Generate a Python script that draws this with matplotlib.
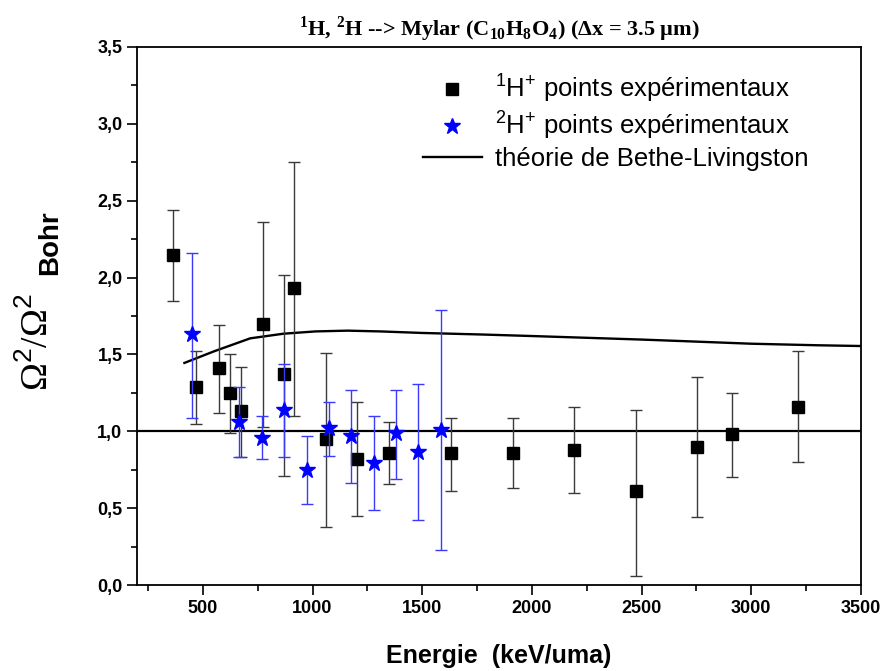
import numpy as np
import matplotlib
matplotlib.use('Agg')
import matplotlib.pyplot as plt
from matplotlib.ticker import MultipleLocator, FuncFormatter

plt.rcParams['font.family'] = ['Liberation Sans', 'DejaVu Sans']
plt.rcParams['mathtext.fontset'] = 'custom'
plt.rcParams['mathtext.rm'] = 'Liberation Sans'
plt.rcParams['mathtext.it'] = 'Liberation Sans:italic'
plt.rcParams['mathtext.bf'] = 'Liberation Serif:bold'
plt.rcParams['mathtext.sf'] = 'Liberation Sans:bold'

# 1H+ experimental points (keV/uma, ratio, lower / upper error bar ends)
e_h1 = [363, 469, 574, 626, 676, 774, 868, 917, 1062, 1205, 1349, 1632, 1912, 2194, 2475, 2753, 2912, 3213]
r_h1 = [2.15, 1.29, 1.41, 1.25, 1.13, 1.70, 1.37, 1.93, 0.95, 0.82, 0.86, 0.86, 0.86, 0.88, 0.61, 0.90, 0.98, 1.16]
lo_h1 = [1.85, 1.05, 1.12, 0.99, 0.835, 1.03, 0.71, 1.10, 0.38, 0.45, 0.66, 0.61, 0.63, 0.60, 0.06, 0.445, 0.70, 0.80]
hi_h1 = [2.44, 1.52, 1.69, 1.50, 1.42, 2.36, 2.02, 2.75, 1.51, 1.19, 1.06, 1.09, 1.09, 1.16, 1.14, 1.355, 1.25, 1.52]

# 2H+ experimental points
e_h2 = [450, 664, 771, 871, 975, 1077, 1176, 1281, 1381, 1483, 1584]
r_h2 = [1.63, 1.06, 0.96, 1.14, 0.75, 1.02, 0.97, 0.795, 0.99, 0.865, 1.01]
lo_h2 = [1.09, 0.83, 0.82, 0.83, 0.525, 0.84, 0.665, 0.49, 0.69, 0.425, 0.23]
hi_h2 = [2.16, 1.29, 1.10, 1.44, 0.97, 1.19, 1.27, 1.10, 1.27, 1.31, 1.79]

# Bethe-Livingston theory
e_th = [416, 550, 716, 867, 1013, 1160, 1310, 1500, 1770, 2000, 2500, 2725, 3000, 3300, 3500]
r_th = [1.445, 1.52, 1.605, 1.635, 1.65, 1.655, 1.65, 1.64, 1.63, 1.62, 1.597, 1.585, 1.57, 1.56, 1.555]

fig = plt.figure(figsize=(8.87, 6.71), dpi=100)
ax = fig.add_axes([0.1545, 0.128, 0.816, 0.802])

r_h1 = np.array(r_h1)
r_h2 = np.array(r_h2)
err_h1 = [r_h1 - np.array(lo_h1), np.array(hi_h1) - r_h1]
err_h2 = [r_h2 - np.array(lo_h2), np.array(hi_h2) - r_h2]

ax.axhline(1.0, color='black', lw=1.6, zorder=1)
th_line, = ax.plot(e_th, r_th, color='black', lw=1.7, zorder=2)
eb1 = ax.errorbar(e_h1, r_h1, yerr=err_h1, fmt='s', color='black', ms=8,
                  ecolor='#3a3a3a', elinewidth=1, capsize=4.5, capthick=1, zorder=3)
eb2 = ax.errorbar(e_h2, r_h2, yerr=err_h2, fmt='*', color='#0000ff', ms=12,
                  ecolor='#3a3aff', elinewidth=1, capsize=4.5, capthick=1, zorder=4)

ax.set_xlim(200, 3500)
ax.set_ylim(0, 3.5)
ax.xaxis.set_major_locator(MultipleLocator(500))
ax.xaxis.set_minor_locator(MultipleLocator(250))
ax.yaxis.set_major_locator(MultipleLocator(0.5))
ax.yaxis.set_minor_locator(MultipleLocator(0.25))
ax.yaxis.set_major_formatter(FuncFormatter(lambda v, p: f'{v:.1f}'.replace('.', ',')))
ax.tick_params(which='both', direction='out', top=False, right=False, width=1.2)
ax.tick_params(which='major', length=7, labelsize=13)
ax.tick_params(which='minor', length=4)
for lab in ax.get_xticklabels() + ax.get_yticklabels():
    lab.set_fontweight('bold')
for s in ax.spines.values():
    s.set_linewidth(1.3)

ax.set_xlabel('Energie  (keV/uma)', fontsize=18, fontweight='bold', labelpad=20)

# y label drawn in two pieces so the subscript can be large like the original
fig.text(37 / 887, 1 - 342 / 671, 'Ω$^{2}$/Ω$^{2}$', family='Liberation Serif', fontsize=27,
         rotation=90, ha='center', va='center')
fig.text(50 / 887, 1 - 243 / 671, 'Bohr', fontsize=20, fontweight='bold',
         rotation=90, ha='center', va='center')

ax.set_title('$^{\\mathbf{1}}$H, $^{\\mathbf{2}}$H --> Mylar (C$_{\\mathbf{10}}$H$_{\\mathbf{8}}$O$_{\\mathbf{4}}$) (Δx = 3.5 µm)',
             family='Liberation Serif', fontweight='bold', fontsize=16, pad=8)

ax.legend([eb1[0], eb2[0], th_line],
          ['$^{1}$H$^{+}$ points expérimentaux', '$^{2}$H$^{+}$ points expérimentaux',
           'théorie de Bethe-Livingston'],
          loc='upper left', bbox_to_anchor=(0.395, 0.952), frameon=False, fontsize=18.5,
          borderpad=0, borderaxespad=0, handlelength=2.3, handletextpad=0.5, labelspacing=0.2)

fig.savefig('out.png', dpi=100)
